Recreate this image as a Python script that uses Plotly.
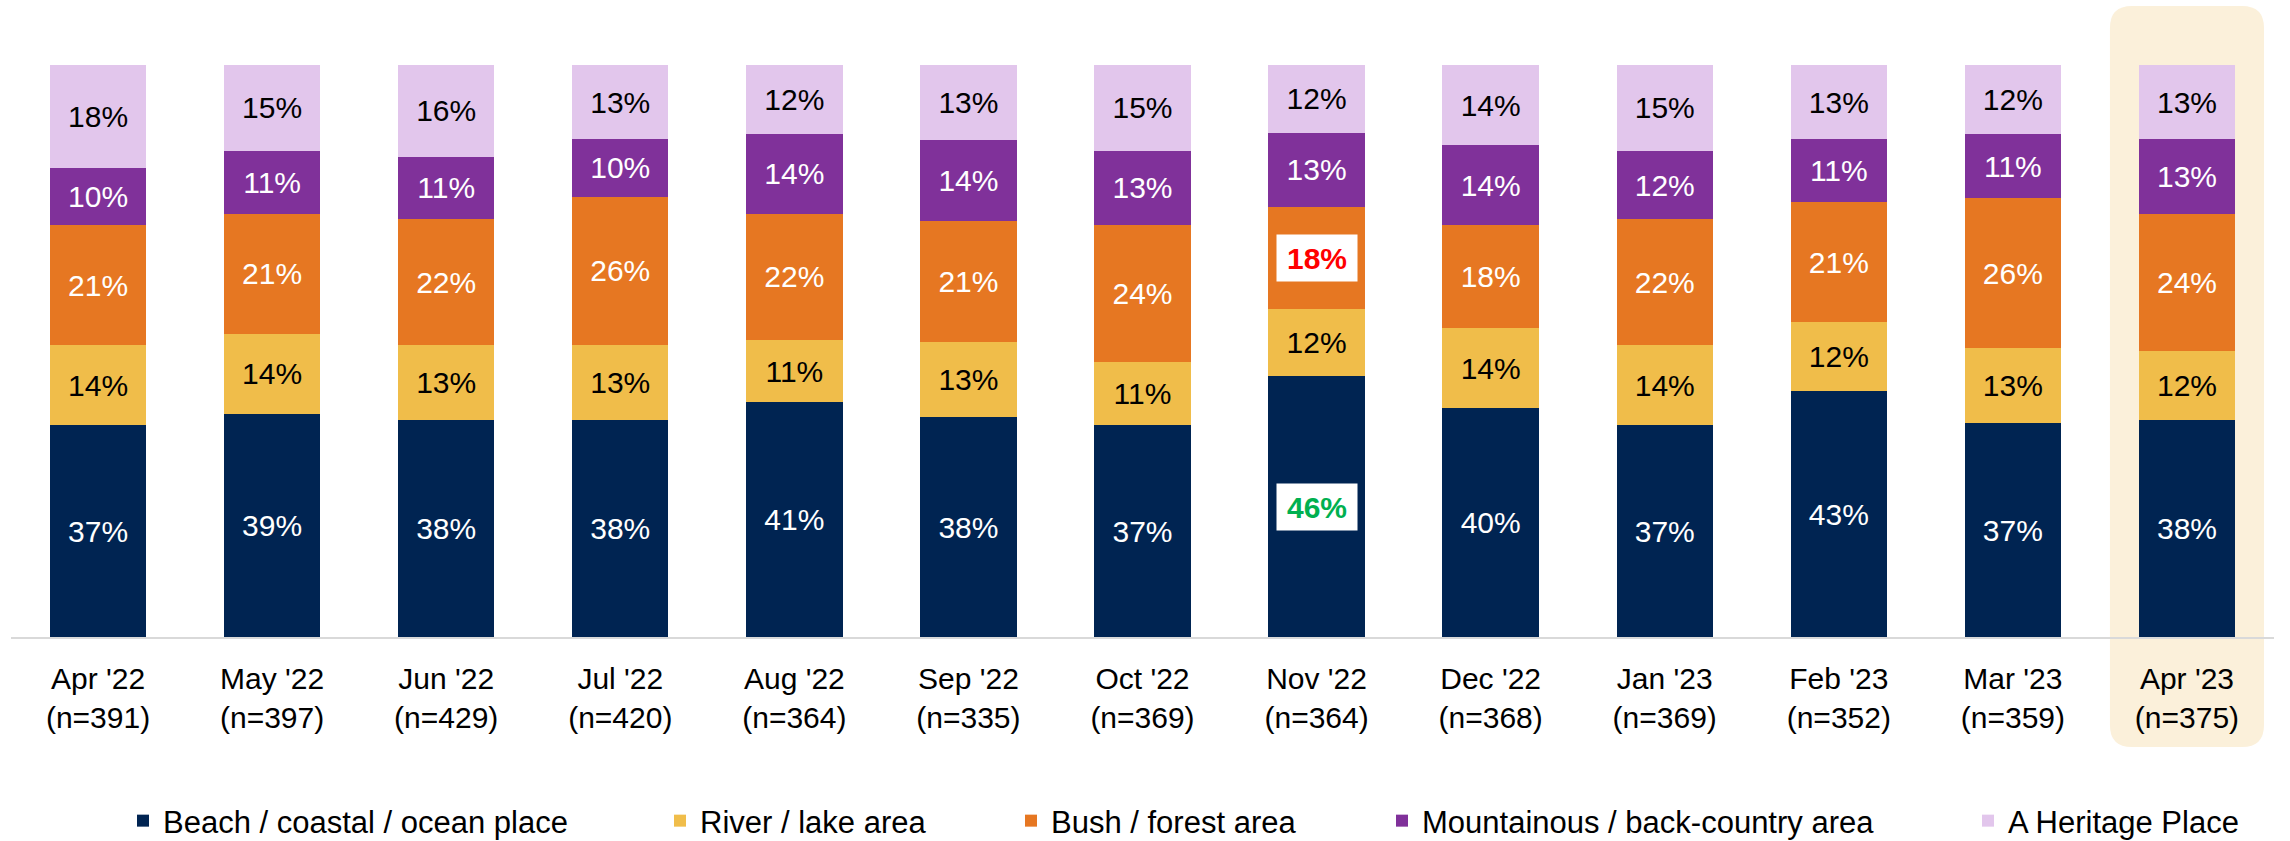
import plotly.graph_objects as go

# ---------------- data ----------------
months = ["Apr '22", "May '22", "Jun '22", "Jul '22", "Aug '22", "Sep '22", "Oct '22",
          "Nov '22", "Dec '22", "Jan '23", "Feb '23", "Mar '23", "Apr '23"]
n_sizes = [391, 397, 429, 420, 364, 335, 369, 364, 368, 369, 352, 359, 375]

series_names = ["Beach / coastal / ocean place", "River / lake area", "Bush / forest area",
                "Mountainous / back-country area", "A Heritage Place"]
beach    = [37, 39, 38, 38, 41, 38, 37, 46, 40, 37, 43, 37, 38]
river    = [14, 14, 13, 13, 11, 13, 11, 12, 14, 14, 12, 13, 12]
bush     = [21, 21, 22, 26, 22, 21, 24, 18, 18, 22, 21, 26, 24]
mountain = [10, 11, 11, 10, 14, 14, 13, 13, 14, 12, 11, 11, 13]
heritage = [18, 15, 16, 13, 12, 13, 15, 12, 14, 15, 13, 12, 13]
series_values = [beach, river, bush, mountain, heritage]

series_colors = ["#002452", "#F0BD4A", "#E67722", "#80319A", "#E2C6EC"]
label_colors = ["#FFFFFF", "#000000", "#FFFFFF", "#FFFFFF", "#000000"]

highlight_month = "Apr '23"
# (month, series index, text colour) of the boxed call-out labels
callouts = [("Nov '22", 0, "#00B050"), ("Nov '22", 2, "#FF0000")]

FONT = "Liberation Sans, Arial, sans-serif"
W, H = 2290, 841
M_L, M_R, M_T, M_B = 11, 16, 65, 204

tick_text = [f"{m}<br>(n={n})" for m, n in zip(months, n_sizes)]

fig = go.Figure()
callout_keys = {(m, s) for m, s, _ in callouts}
legend_ids = ["legend", "legend2", "legend3", "legend4", "legend5"]

for si, (name, vals) in enumerate(zip(series_names, series_values)):
    texts = []
    for m, v in zip(months, vals):
        texts.append("" if (m, si) in callout_keys else f"{v}%")
    fig.add_trace(go.Bar(
        x=months, y=vals, name=name,
        marker=dict(color=series_colors[si], line=dict(width=0)),
        text=texts, textposition="inside", insidetextanchor="middle",
        textangle=0, constraintext="none",
        insidetextfont=dict(family=FONT, size=30, color=label_colors[si]),
        hoverinfo="skip", legend=legend_ids[si],
    ))

# call-out labels with white boxes, placed at the segment middles (normalised stack)
for m, si, col in callouts:
    j = months.index(m)
    total = sum(s[j] for s in series_values)
    below = sum(series_values[k][j] for k in range(si))
    ymid = (below + series_values[si][j] / 2) / total * 100
    fig.add_annotation(
        x=m, y=ymid, xref="x", yref="y", showarrow=False,
        text=f"<b>{series_values[si][j]}%</b>",
        font=dict(family=FONT, size=30, color=col),
        bgcolor="#FFFFFF", width=72, height=38, borderpad=4,
    )

# highlight box behind the latest month
ncat = len(months)
hi = months.index(highlight_month)
half = 0.885 / 2
x0 = (hi + 0.5 - half) / ncat
x1 = (hi + 0.5 + half) / ncat
plot_w = W - M_L - M_R
plot_h = H - M_T - M_B
y1 = (plot_h + M_T - 6) / plot_h
y0 = -(747 - (H - M_B)) / plot_h
rx = 22 / plot_w
ry = 22 / plot_h
path = (f"M{x0 + rx},{y0} L{x1 - rx},{y0} Q{x1},{y0} {x1},{y0 + ry} "
        f"L{x1},{y1 - ry} Q{x1},{y1} {x1 - rx},{y1} L{x0 + rx},{y1} "
        f"Q{x0},{y1} {x0},{y1 - ry} L{x0},{y0 + ry} Q{x0},{y0} {x0 + rx},{y0} Z")
fig.add_shape(type="path", path=path, xref="paper", yref="paper",
              fillcolor="#FBF0DA", line=dict(width=0), layer="below")

# legends (one per series so each entry sits where the reference puts it)
text_starts = [163, 700, 1051, 1422, 2008]
legends = {}
for lid, ts in zip(legend_ids, text_starts):
    legends[lid] = dict(
        orientation="h", x=(ts - 40 - M_L) / plot_w, xanchor="left", xref="paper",
        y=(H - 821) / H, yanchor="middle", yref="container",
        bgcolor="rgba(0,0,0,0)",
        font=dict(family=FONT, size=31, color="#000000"),
    )

fig.update_layout(
    width=W, height=H,
    margin=dict(l=M_L, r=M_R, t=M_T, b=M_B, pad=0),
    barmode="stack", barnorm="percent", bargap=0.446,
    paper_bgcolor="#FFFFFF", plot_bgcolor="rgba(0,0,0,0)",
    font=dict(family=FONT, size=30, color="#000000"),
    showlegend=True,
    xaxis=dict(
        type="category", tickmode="array", tickvals=months, ticktext=tick_text,
        showline=True, linecolor="#D9D9D9", linewidth=2, showgrid=False,
        ticks="", ticklabelstandoff=14,
        tickfont=dict(family=FONT, size=30, color="#000000"),
        range=[-0.5, ncat - 0.5],
    ),
    yaxis=dict(visible=False, range=[0, 100], showgrid=False, zeroline=False),
    **legends,
)

fig.write_html("out.html", config={"displayModeBar": False},
               post_script="document.body.style.margin='0';document.body.style.overflow='hidden';")
